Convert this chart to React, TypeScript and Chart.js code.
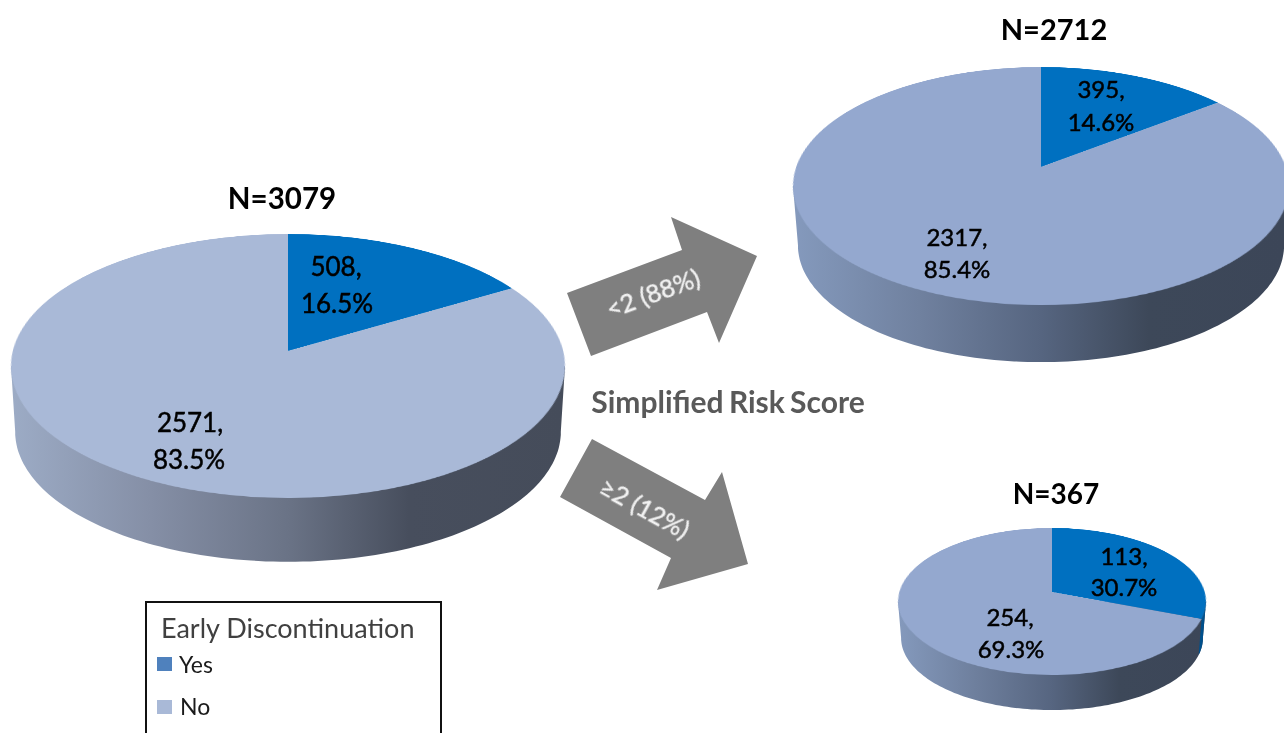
import React, { useEffect, useRef } from "react";
import { Chart, registerables } from "chart.js";

Chart.register(...registerables);

const categories = ["Yes", "No"];
const overallValues = [508, 2571];
const lowRiskValues = [395, 2317];
const highRiskValues = [113, 254];
const overallPercents = ["16.5%", "83.5%"];
const lowRiskPercents = ["14.6%", "85.4%"];
const highRiskPercents = ["30.7%", "69.3%"];
const titles = ["N=3079", "N=2712", "N=367"];
const arrowLabels = ["<2 (88%)", "≥2 (12%)"];
const centerLabel = "Simplified Risk Score";
const legendTitle = "Early Discontinuation";

const FONT = "Lato, 'Open Sans', sans-serif";
const BLUE = "#0070C0";
const PAD = 4;

type PieCfg = {
  id: string; values: number[]; percents: string[]; title: string;
  cx: number; ya: number; a: number; c: number; s: number; k: number; depth: number;
  face: string; stops: [number, string][];
  titleAt: [number, number, number];
  labelFont: number;
  labelAt: [number, number, number, number][];
};

const pies: PieCfg[] = [
  {
    id: "p1", values: overallValues, percents: overallPercents, title: titles[0],
    cx: 288, ya: 351, a: 130.3, c: -0.1136, s: 275.2, k: 0.985, depth: 66,
    face: "#A9B9D7",
    stops: [[0, "#9CABC5"], [0.25, "#858FA6"], [0.5, "#6A7386"], [0.72, "#474E5D"], [1, "#454C5A"]],
    titleAt: [282, 198, 29.5],
    labelFont: 26,
    labelAt: [[336, 266, 337, 303], [190, 422, 189, 459]],
  },
  {
    id: "p2", values: lowRiskValues, percents: lowRiskPercents, title: titles[1],
    cx: 1041, ya: 167, a: 116, c: -0.16, s: 244.8, k: 0.98, depth: 59.8,
    face: "#94A8CF",
    stops: [[0, "#8499BC"], [0.25, "#70819F"], [0.5, "#566580"], [0.72, "#3D4859"], [1, "#3C4658"]],
    titleAt: [1054, 28, 29],
    labelFont: 24,
    labelAt: [[1101, 89, 1101, 122], [957, 237, 957, 269]],
  },
  {
    id: "p3", values: highRiskValues, percents: highRiskPercents, title: titles[2],
    cx: 1052, ya: 592, a: 72.3, c: -0.129, s: 152.7, k: 0.98, depth: 36.7,
    face: "#94A8CF",
    stops: [[0, "#8499BC"], [0.25, "#6E7F9D"], [0.5, "#566580"], [0.72, "#3D4859"], [1, "#3C4658"]],
    titleAt: [1056, 493, 28],
    labelFont: 24,
    labelAt: [[1124, 556, 1124, 587], [1010, 617, 1011, 649]],
  },
];

const project = (p: PieCfg, deg: number, bottom: boolean): [number, number] => {
  const t = (deg * Math.PI) / 180;
  const X = Math.sin(t), Y = -Math.cos(t);
  const w = 1 + p.c * Y;
  const k = bottom ? p.k : 1;
  return [p.cx + (p.s * k * X) / w, p.ya + (bottom ? p.depth : 0) + (p.a * k * Y) / w];
};

const toPts = (arr: [number, number][]) => arr.map((q) => q.map((n) => n.toFixed(1)).join(",")).join(" ");

const sidePoints = (p: PieCfg) => {
  const start = (Math.acos(p.c) * 180) / Math.PI;
  const end = 360 - start;
  const pts: [number, number][] = [project(p, start, false)];
  for (let d = start; d <= end + 0.01; d += (end - start) / 120) pts.push(project(p, d, true));
  pts.push(project(p, end, false));
  return toPts(pts);
};

const sliverPoints = (p: PieCfg) => {
  const start = (Math.acos(p.c) * 180) / Math.PI;
  const sliceEnd = (p.values[0] / (p.values[0] + p.values[1])) * 360;
  if (sliceEnd <= start) return null;
  const top: [number, number][] = [];
  const bot: [number, number][] = [];
  for (let i = 0; i <= 16; i++) {
    const d = start + ((sliceEnd - start) * i) / 16;
    top.push(project(p, d, false));
    bot.unshift(project(p, d, true));
  }
  return toPts([...top, ...bot]);
};

function Pie({ p }: { p: PieCfg }) {
  const ref = useRef<HTMLCanvasElement>(null);
  const R = Math.round(p.s);
  const size = 2 * (R + PAD);
  useEffect(() => {
    const chart = new Chart(ref.current!, {
      type: "pie",
      data: {
        labels: categories,
        datasets: [{ data: p.values, backgroundColor: [BLUE, p.face], borderWidth: 0 }],
      },
      options: {
        responsive: false,
        animation: false,
        layout: { padding: PAD },
        plugins: { legend: { display: false }, tooltip: { enabled: false }, title: { display: false } },
      },
    });
    return () => chart.destroy();
  }, []);
  const m = [p.s / R, 0, 0, 0, 0, p.a / R, 0, p.c / R, 0, 0, 1, 0, 0, 0, 0, 1].join(",");
  return (
    <div
      style={{
        position: "absolute", left: p.cx - R - PAD, top: p.ya - R - PAD, width: size, height: size,
        transformOrigin: "50% 50%", transform: `matrix3d(${m})`,
      }}
    >
      <canvas ref={ref} width={size} height={size} />
    </div>
  );
}

const Txt = ({ x, y, size, bold, color, rot, children, ls, ws, left, stroke }: any) => (
  <div
    style={{
      position: "absolute", left: x, top: y, whiteSpace: "nowrap", fontFamily: FONT, fontSize: size,
      fontWeight: bold ? 700 : 400, color: color || "#000", lineHeight: 1, letterSpacing: ls, wordSpacing: ws,
      WebkitTextStroke: stroke ? `${stroke}px ${color || "#000"}` : undefined,
      transform: `${left ? "translateY(-50%)" : "translate(-50%,-50%)"}${rot ? ` rotate(${rot}deg)` : ""}`,
    }}
  >
    {children}
  </div>
);

export default function App() {
  return (
    <div
      style={{
        position: "fixed", left: 0, top: 0, width: 1284, height: 733, overflow: "hidden", background: "#fff",
      }}
    >
      <div style={{ position: "absolute", inset: 0, filter: "blur(0.7px)" }}>
        <svg width={1284} height={733} style={{ position: "absolute", left: 0, top: 0 }}>
          <defs>
            {pies.map((p) => (
              <linearGradient
                key={p.id} id={`g${p.id}`} gradientUnits="userSpaceOnUse"
                x1={p.cx - p.s} y1={0} x2={p.cx + p.s} y2={0}
              >
                {p.stops.map(([o, col]) => <stop key={o} offset={o} stopColor={col} />)}
              </linearGradient>
            ))}
          </defs>
          {pies.map((p) => {
            const sl = sliverPoints(p);
            return (
              <g key={p.id}>
                <polygon points={sidePoints(p)} fill={`url(#g${p.id})`} />
                {sl && <polygon points={sl} fill="#00508C" />}
              </g>
            );
          })}
          <polygon points="567,293 682,250 671,217 757,256 719,343 707,312 591,356" fill="#7F7F7F" />
          <polygon points="592,439 705,500 722,472 748,564 657,590 671,558 560,497" fill="#7F7F7F" />
        </svg>
        {pies.map((p) => <Pie key={p.id} p={p} />)}
        {pies.map((p) => (
          <React.Fragment key={p.id}>
            <Txt x={p.titleAt[0]} y={p.titleAt[1]} size={p.titleAt[2]} bold>{p.title}</Txt>
            {p.labelAt.map((at, i) => (
              <React.Fragment key={i}>
                <Txt x={at[0]} y={at[1]} size={p.labelFont} stroke={0.5}>{`${p.values[i]},`}</Txt>
                <Txt x={at[2]} y={at[3]} size={p.labelFont} stroke={0.5}>{p.percents[i]}</Txt>
              </React.Fragment>
            ))}
          </React.Fragment>
        ))}
        <Txt x={653} y={293} size={25} color="#F2F2F2" rot={-20} stroke={0.4}>{arrowLabels[0]}</Txt>
        <Txt x={645} y={508} size={25} color="#F2F2F2" rot={29} stroke={0.4}>{arrowLabels[1]}</Txt>
        <Txt x={728} y={401} size={30} bold color="#595959" ws={-2}>{centerLabel}</Txt>
        <div
          style={{
            position: "absolute", left: 145, top: 601, width: 297, height: 160,
            border: "2px solid #111", boxSizing: "border-box", background: "#fff",
          }}
        />
        <Txt x={161} y={627} size={27} color="#404040" left>{legendTitle}</Txt>
        <div style={{ position: "absolute", left: 157, top: 657, width: 15, height: 14, background: "#4F81BD" }} />
        <Txt x={179} y={664} size={23} color="#1a1a1a" left>{categories[0]}</Txt>
        <div style={{ position: "absolute", left: 157, top: 700, width: 15, height: 14, background: "#A9B9D7" }} />
        <Txt x={180} y={706} size={23} color="#1a1a1a" left>{categories[1]}</Txt>
      </div>
    </div>
  );
}
